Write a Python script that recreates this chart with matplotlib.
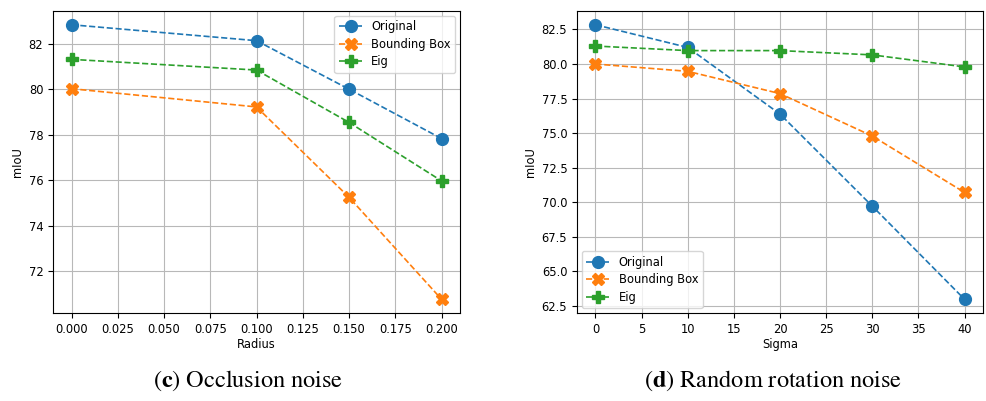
import matplotlib
matplotlib.use("Agg")
import matplotlib.pyplot as plt

# occlusion noise (left)
radius = [0.0, 0.1, 0.15, 0.2]
occ_original = [82.83, 82.13, 80.0, 77.83]
occ_bbox = [80.02, 79.22, 75.25, 70.77]
occ_eig = [81.31, 80.84, 78.54, 75.97]

# random rotation noise (right)
sigma = [0, 10, 20, 30, 40]
rot_original = [82.84, 81.2, 76.38, 69.72, 62.98]
rot_bbox = [80.0, 79.47, 77.86, 74.79, 70.71]
rot_eig = [81.3, 80.97, 80.97, 80.66, 79.79]

labels = ['Original', 'Bounding Box', 'Eig']
markers = ['o', 'X', 'P']
colors = ['#1f77b4', '#ff7f0e', '#2ca02c']

plt.rcParams['mathtext.fontset'] = 'stix'

fig = plt.figure(figsize=(9.87, 4.01), dpi=100)
ax1 = fig.add_axes([0.0537, 0.2195, 0.4124, 0.753])
ax2 = fig.add_axes([0.5846, 0.2195, 0.4113, 0.753])

def draw(ax, x, series, xlabel, loc):
    for ys, lab, m, c in zip(series, labels, markers, colors):
        ax.plot(x, ys, linestyle='--', marker=m, color=c, label=lab,
                markersize=8.5, linewidth=1.2)
    ax.grid(True, color='#b8b8b8', linewidth=0.8)
    ax.set_xlabel(xlabel, fontsize=8.3, labelpad=2)
    ax.set_ylabel('mIoU', fontsize=8.3, labelpad=3)
    ax.tick_params(labelsize=8.3)
    ax.legend(loc=loc, fontsize=8.3, borderaxespad=0.4, labelspacing=0.4)

draw(ax1, radius, [occ_original, occ_bbox, occ_eig], 'Radius', 'upper right')
draw(ax2, sigma, [rot_original, rot_bbox, rot_eig], 'Sigma', 'lower left')
ax1.set_xticks([0.0, 0.025, 0.05, 0.075, 0.1, 0.125, 0.15, 0.175, 0.2])
ax1.set_xticklabels(['0.000', '0.025', '0.050', '0.075', '0.100', '0.125', '0.150', '0.175', '0.200'])

fig.text(248/987, 1 - 381/401, r'($\mathbf{c}$) Occlusion noise', family='STIXGeneral',
         fontsize=17.5, ha='center', va='center')
fig.text(773/987, 1 - 381/401, r'($\mathbf{d}$) Random rotation noise', family='STIXGeneral',
         fontsize=17.5, ha='center', va='center')

fig.savefig('out.png', dpi=100)
